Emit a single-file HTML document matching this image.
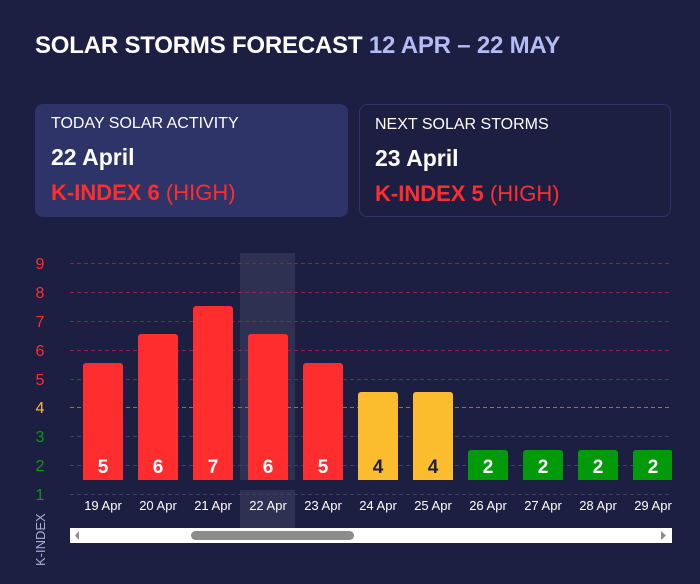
<!DOCTYPE html>
<html><head><meta charset="utf-8"><style>
body{margin:0;width:700px;height:584px;background:#1d1f42;font-family:"Liberation Sans",sans-serif;overflow:hidden;position:relative;color:#fff}
.t{position:absolute;left:35px;top:32px;font-size:24px;font-weight:bold;white-space:nowrap;letter-spacing:-0.2px}
.t span{color:#b5bcf5}
.card{position:absolute;top:104px;height:113px;box-sizing:border-box;border-radius:8px;padding-left:16px}
.c1{left:35px;width:313px;background:#2e3468}
.c2{left:359px;width:312px;border:1px solid #2e3468;padding-left:15px}
.l1{position:absolute;top:11px;font-size:16px;white-space:nowrap}
.l2{position:absolute;top:40px;font-size:23px;font-weight:bold;white-space:nowrap}
.l3{position:absolute;top:76px;font-size:22px;color:#ff2d2d;white-space:nowrap}
.l3 b{font-weight:bold}
</style></head><body>
<div class="t">SOLAR STORMS FORECAST <span>12 APR – 22 MAY</span></div>
<div class="card c1"><div class="l1">TODAY SOLAR ACTIVITY</div><div class="l2">22 April</div><div class="l3"><b>K-INDEX 6</b> (HIGH)</div></div>
<div class="card c2"><div class="l1">NEXT SOLAR STORMS</div><div class="l2">23 April</div><div class="l3"><b>K-INDEX 5</b> (HIGH)</div></div>
<svg width="700" height="584" style="position:absolute;left:0;top:0" font-family="Liberation Sans,sans-serif">
<rect x="240" y="253" width="55" height="277" fill="#2e3152"/>
<g stroke-dasharray="4,3" stroke-width="1">
<line x1="70" x2="672" y1="263.5" y2="263.5" stroke="#7a2a45"/>
<line x1="70" x2="672" y1="292.5" y2="292.5" stroke="#8a2a40"/>
<line x1="70" x2="672" y1="321.5" y2="321.5" stroke="#7a2a45"/>
<line x1="70" x2="672" y1="350.5" y2="350.5" stroke="#8a2a40"/>
<line x1="70" x2="672" y1="379.5" y2="379.5" stroke="#7a2a45"/>
<line x1="70" x2="672" y1="407.5" y2="407.5" stroke="#8a7a50"/>
<line x1="70" x2="672" y1="436.5" y2="436.5" stroke="#3a3f75"/>
<line x1="70" x2="672" y1="465.5" y2="465.5" stroke="#3a3f75"/>
<line x1="70" x2="672" y1="494.5" y2="494.5" stroke="#3a3f75"/>
</g>
<g font-size="16" text-anchor="middle">
<text x="40" y="269" fill="#ff2d2d">9</text><text x="40" y="298" fill="#ff2d2d">8</text>
<text x="40" y="327" fill="#ff2d2d">7</text><text x="40" y="356" fill="#ff2d2d">6</text>
<text x="40" y="385" fill="#ff2d2d">5</text><text x="40" y="413" fill="#fbbd2e">4</text>
<text x="40" y="442" fill="#0a9a0a">3</text><text x="40" y="471" fill="#0a9a0a">2</text>
<text x="40" y="500" fill="#0a9a0a">1</text>
</g>
<text transform="translate(45,566) rotate(-90)" font-size="13" fill="#a9aed8">K-INDEX</text>
<defs><clipPath id="cp"><rect x="70" y="250" width="602" height="240"/></clipPath></defs>
<g clip-path="url(#cp)">
<rect x="83" y="363" width="40" height="122" rx="3" fill="#ff2d2d"/>
<rect x="138" y="334" width="40" height="151" rx="3" fill="#ff2d2d"/>
<rect x="193" y="306" width="40" height="179" rx="3" fill="#ff2d2d"/>
<rect x="248" y="334" width="40" height="151" rx="3" fill="#ff2d2d"/>
<rect x="303" y="363" width="40" height="122" rx="3" fill="#ff2d2d"/>
<rect x="358" y="392" width="40" height="93" rx="3" fill="#fbbd2e"/>
<rect x="413" y="392" width="40" height="93" rx="3" fill="#fbbd2e"/>
<rect x="468" y="450" width="40" height="35" rx="3" fill="#019a0b"/>
<rect x="523" y="450" width="40" height="35" rx="3" fill="#019a0b"/>
<rect x="578" y="450" width="40" height="35" rx="3" fill="#019a0b"/>
<rect x="633" y="450" width="40" height="35" rx="3" fill="#019a0b"/>
</g>
<rect x="70" y="480" width="602" height="10" fill="#1d1f42"/>
<g font-size="19" font-weight="bold" text-anchor="middle" fill="#fff">
<text x="103" y="473">5</text><text x="158" y="473">6</text><text x="213" y="473">7</text>
<text x="268" y="473">6</text><text x="323" y="473">5</text>
<text x="378" y="473" fill="#1d1f42">4</text><text x="433" y="473" fill="#1d1f42">4</text>
<text x="488" y="473">2</text><text x="543" y="473">2</text><text x="598" y="473">2</text><text x="653" y="473">2</text>
</g>
<g font-size="13" text-anchor="middle" fill="#fff">
<text x="103" y="510">19 Apr</text><text x="158" y="510">20 Apr</text><text x="213" y="510">21 Apr</text>
<text x="268" y="510">22 Apr</text><text x="323" y="510">23 Apr</text><text x="378" y="510">24 Apr</text>
<text x="433" y="510">25 Apr</text><text x="488" y="510">26 Apr</text><text x="543" y="510">27 Apr</text>
<text x="598" y="510">28 Apr</text><text x="653" y="510">29 Apr</text>
</g>
<rect x="672" y="495" width="28" height="20" fill="#1d1f42"/>
<rect x="70" y="528" width="602" height="15" fill="#fff"/>
<rect x="191" y="531" width="163" height="9" rx="4.5" fill="#8c8c8c"/>
<polygon points="79,531 79,540 75,535.5" fill="#8c8c8c"/>
<polygon points="661,531 661,540 666,535.5" fill="#8c8c8c"/>
</svg>
</body></html>
